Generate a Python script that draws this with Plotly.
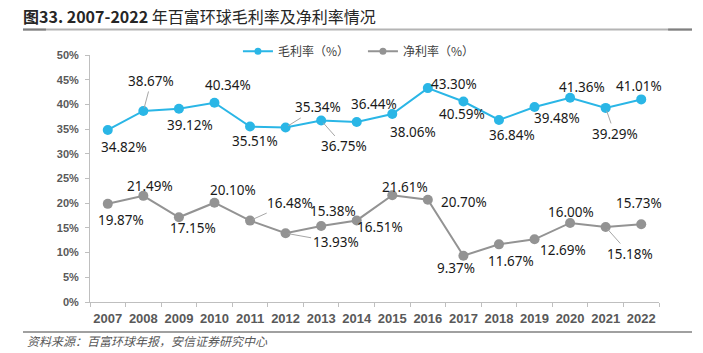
import plotly.graph_objects as go

years = ["2007", "2008", "2009", "2010", "2011", "2012", "2013", "2014",
         "2015", "2016", "2017", "2018", "2019", "2020", "2021", "2022"]
gross_margin = [34.82, 38.67, 39.12, 40.34, 35.51, 35.34, 36.75, 36.44,
                38.06, 43.30, 40.59, 36.84, 39.48, 41.36, 39.29, 41.01]
net_margin = [19.87, 21.49, 17.15, 20.10, 16.48, 13.93, 15.38, 16.51,
              21.61, 20.70, 9.37, 11.67, 12.69, 16.00, 15.18, 15.73]

# label offsets (pixels: dx right, dy up) and whether a leader line is drawn
gross_off = [(16, -17, 0), (8, 30, 1), (11, -16, 0), (14, 18, 0), (5, -14, 0),
             (32, 20, 1), (23, -26, 1), (17, 18, 0), (21, -18, 0), (26, 4, 0),
             (-1, -13, 0), (13, -15, 0), (22, -11, 0), (12, 11, 0), (9, -26, 1),
             (-2, 13, 0)]
net_off = [(13, -16, 0), (7, 10, 0), (14, -11, 0), (19, 13, 0), (40, 18, 1),
           (50, -9, 1), (12, 15, 0), (23, -7, 0), (13, 8, 0), (36, -2, 0),
           (-7, -12, 0), (12, -17, 0), (28, -11, 0), (1, 11, 0), (24, -27, 1),
           (-2, 21, 0)]

BLUE = "#2ab6e6"
GRAY = "#939393"
CJK = "Noto Sans CJK SC"

fig = go.Figure()
fig.add_trace(go.Scatter(x=years, y=gross_margin, mode="lines+markers",
                         line=dict(color=BLUE, width=2),
                         marker=dict(color=BLUE, size=10),
                         showlegend=False, hoverinfo="skip"))
fig.add_trace(go.Scatter(x=years, y=net_margin, mode="lines+markers",
                         line=dict(color=GRAY, width=2),
                         marker=dict(color=GRAY, size=10),
                         showlegend=False, hoverinfo="skip"))
# legend entries
fig.add_trace(go.Scatter(x=[None], y=[None], mode="lines+markers", name="毛利率（%）",
                         line=dict(color=BLUE, width=2), marker=dict(color=BLUE, size=7)))
fig.add_trace(go.Scatter(x=[None], y=[None], mode="lines+markers", name="净利率（%）",
                         line=dict(color=GRAY, width=2), marker=dict(color=GRAY, size=7)))

annos = []
for series, offs in ((gross_margin, gross_off), (net_margin, net_off)):
    for i, (v, (dx, dy, lead)) in enumerate(zip(series, offs)):
        a = dict(x=i, y=v, text=f"{v:.2f}%",
                 font=dict(family="Noto Sans", size=13.5, color="#1a1a1a"))
        if lead:
            a.update(showarrow=True, ax=dx, ay=-dy, arrowhead=0, arrowwidth=1,
                     arrowcolor="#a6a6a6", standoff=3)
        else:
            a.update(showarrow=False, xshift=dx, yshift=dy)
        annos.append(a)

annos.append(dict(xref="paper", yref="paper", x=-0.114, y=-0.154, xanchor="left",
                  yanchor="middle", showarrow=False,
                  text="<i>资料来源：百富环球年报，安信证券研究中心</i>",
                  font=dict(family=CJK, size=12, color="#595959")))

fig.update_layout(
    width=703, height=353,
    margin=dict(l=90, r=44, t=55, b=51),
    paper_bgcolor="white", plot_bgcolor="white",
    title=dict(text="<b>图33. 2007-2022</b> 年百富环球毛利率及净利率情况",
               x=23 / 703, xanchor="left", xref="container",
               y=1 - 17 / 353, yanchor="middle", yref="container",
               font=dict(family=CJK, size=16, color="#262626")),
    legend=dict(orientation="h", x=0.26, xanchor="left", y=1.015, yanchor="middle",
                font=dict(family=CJK, size=12, color="#404040"),
                entrywidth=80, bgcolor="rgba(0,0,0,0)"),
    xaxis=dict(type="category", range=[-0.5, len(years) - 0.5], autorange=False,
               showline=True, linecolor="#bfbfbf", linewidth=1, tickangle=0,
               ticks="outside", tickson="boundaries", ticklen=4, tickcolor="#bfbfbf",
               showgrid=False, ticklabelstandoff=4,
               tickfont=dict(family="Liberation Sans", size=13, color="#595959")),
    yaxis=dict(range=[0, 50], dtick=5, ticksuffix="%", showline=True,
               linecolor="#bfbfbf", linewidth=1, ticks="outside", ticklen=4,
               tickcolor="#bfbfbf", showgrid=False, zeroline=False,
               ticklabelstandoff=4,
               tickfont=dict(family="Liberation Sans", size=11, color="#595959")),
    annotations=annos,
    shapes=[
        dict(type="line", xref="paper", yref="paper", x0=-0.1178, x1=1.058,
             y0=1.103, y1=1.103, line=dict(color="#b4b4b4", width=2)),
        dict(type="line", xref="paper", yref="paper", x0=-0.1178, x1=-0.0774,
             y0=1.103, y1=1.103, line=dict(color="#808080", width=2)),
        dict(type="line", xref="paper", yref="paper", x0=1.016, x1=1.058,
             y0=1.103, y1=1.103, line=dict(color="#808080", width=2)),
        dict(type="line", xref="paper", yref="paper", x0=-0.1178, x1=1.058,
             y0=-0.1215, y1=-0.1215, line=dict(color="#808080", width=1.5)),
    ],
)
fig.update_yaxes(tickfont_weight="bold")
fig.update_xaxes(tickfont_weight="bold")

fig.write_html("out.html")
